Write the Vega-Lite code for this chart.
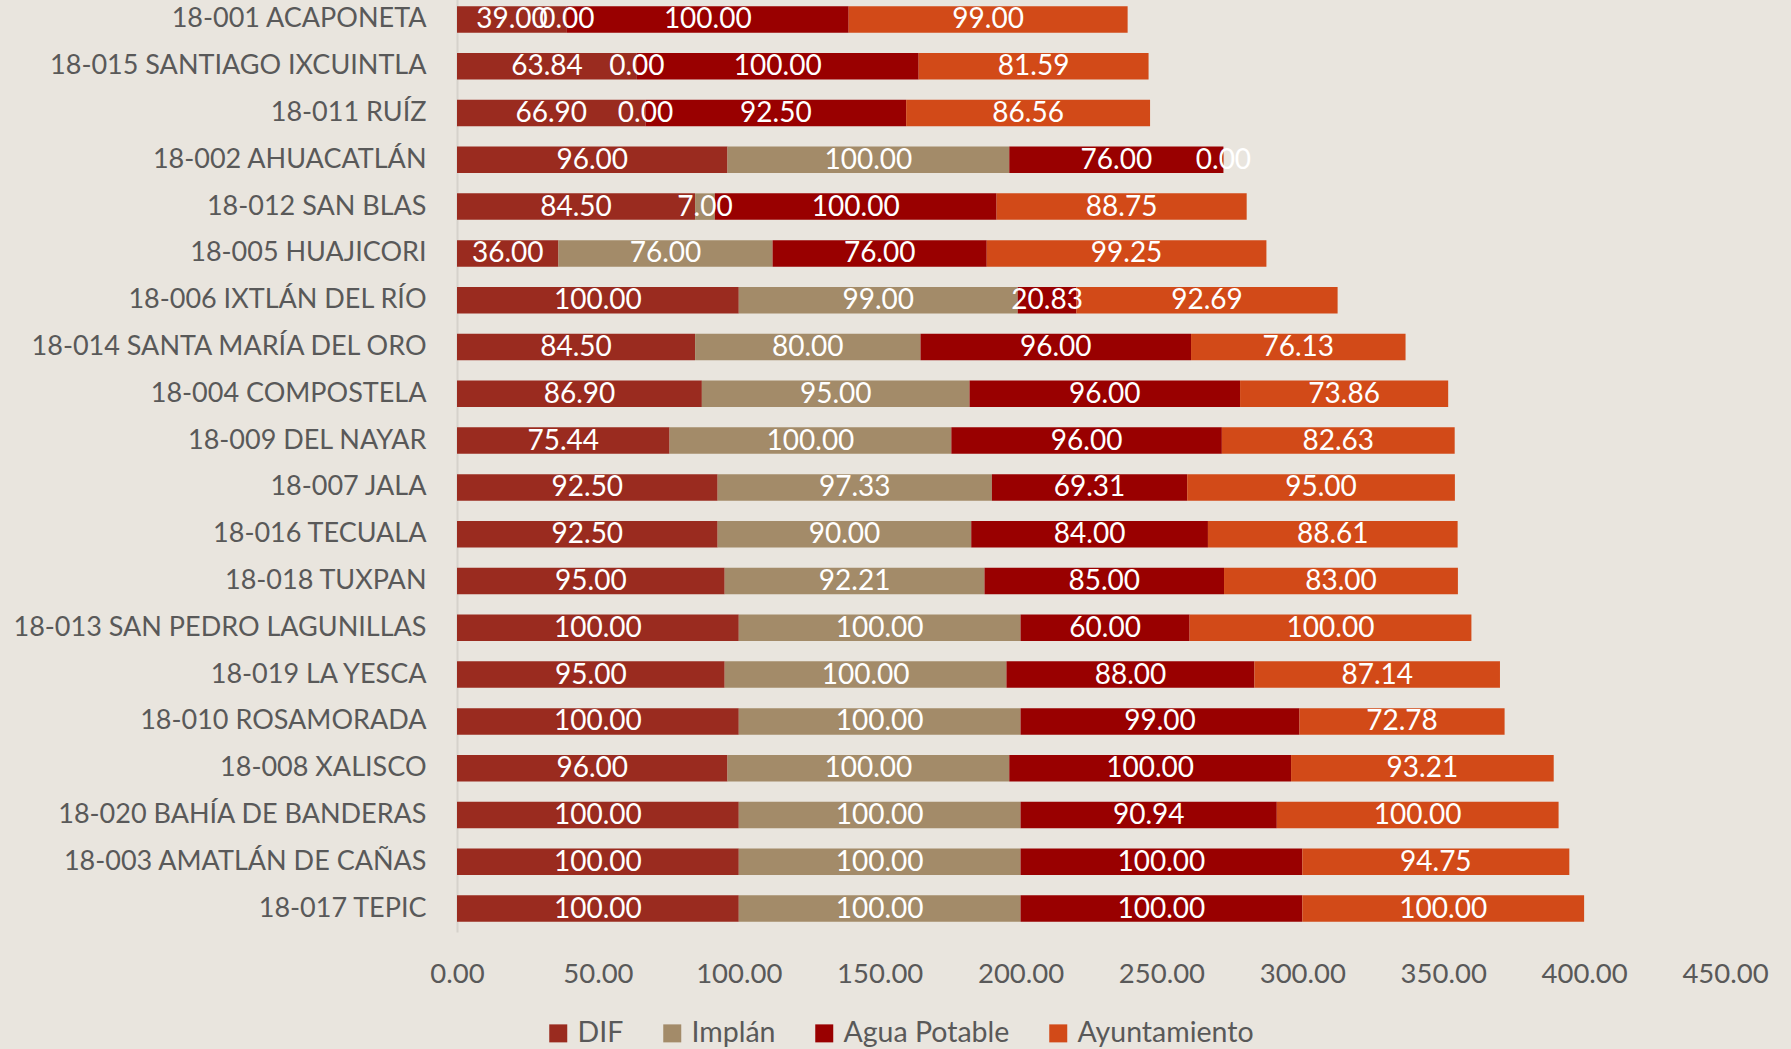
{
  "$schema": "https://vega.github.io/schema/vega-lite/v6.json",
  "width": 1268,
  "height": 936,
  "autosize": "none",
  "padding": {"left": 457, "top": -4, "right": 66, "bottom": 117},
  "background": "#E9E5DE",
  "config": {
    "view": {"stroke": null},
    "font": "Lato",
    "text": {"font": "Lato"}
  },
  "data": {
    "values": [
      {"municipio": "18-001 ACAPONETA", "serie": "DIF", "k": 1, "valor": 39.00},
      {"municipio": "18-001 ACAPONETA", "serie": "Implán", "k": 2, "valor": 0.00},
      {"municipio": "18-001 ACAPONETA", "serie": "Agua Potable", "k": 3, "valor": 100.00},
      {"municipio": "18-001 ACAPONETA", "serie": "Ayuntamiento", "k": 4, "valor": 99.00},
      {"municipio": "18-015 SANTIAGO IXCUINTLA", "serie": "DIF", "k": 1, "valor": 63.84},
      {"municipio": "18-015 SANTIAGO IXCUINTLA", "serie": "Implán", "k": 2, "valor": 0.00},
      {"municipio": "18-015 SANTIAGO IXCUINTLA", "serie": "Agua Potable", "k": 3, "valor": 100.00},
      {"municipio": "18-015 SANTIAGO IXCUINTLA", "serie": "Ayuntamiento", "k": 4, "valor": 81.59},
      {"municipio": "18-011 RUÍZ", "serie": "DIF", "k": 1, "valor": 66.90},
      {"municipio": "18-011 RUÍZ", "serie": "Implán", "k": 2, "valor": 0.00},
      {"municipio": "18-011 RUÍZ", "serie": "Agua Potable", "k": 3, "valor": 92.50},
      {"municipio": "18-011 RUÍZ", "serie": "Ayuntamiento", "k": 4, "valor": 86.56},
      {"municipio": "18-002 AHUACATLÁN", "serie": "DIF", "k": 1, "valor": 96.00},
      {"municipio": "18-002 AHUACATLÁN", "serie": "Implán", "k": 2, "valor": 100.00},
      {"municipio": "18-002 AHUACATLÁN", "serie": "Agua Potable", "k": 3, "valor": 76.00},
      {"municipio": "18-002 AHUACATLÁN", "serie": "Ayuntamiento", "k": 4, "valor": 0.00},
      {"municipio": "18-012 SAN BLAS", "serie": "DIF", "k": 1, "valor": 84.50},
      {"municipio": "18-012 SAN BLAS", "serie": "Implán", "k": 2, "valor": 7.00},
      {"municipio": "18-012 SAN BLAS", "serie": "Agua Potable", "k": 3, "valor": 100.00},
      {"municipio": "18-012 SAN BLAS", "serie": "Ayuntamiento", "k": 4, "valor": 88.75},
      {"municipio": "18-005 HUAJICORI", "serie": "DIF", "k": 1, "valor": 36.00},
      {"municipio": "18-005 HUAJICORI", "serie": "Implán", "k": 2, "valor": 76.00},
      {"municipio": "18-005 HUAJICORI", "serie": "Agua Potable", "k": 3, "valor": 76.00},
      {"municipio": "18-005 HUAJICORI", "serie": "Ayuntamiento", "k": 4, "valor": 99.25},
      {"municipio": "18-006 IXTLÁN DEL RÍO", "serie": "DIF", "k": 1, "valor": 100.00},
      {"municipio": "18-006 IXTLÁN DEL RÍO", "serie": "Implán", "k": 2, "valor": 99.00},
      {"municipio": "18-006 IXTLÁN DEL RÍO", "serie": "Agua Potable", "k": 3, "valor": 20.83},
      {"municipio": "18-006 IXTLÁN DEL RÍO", "serie": "Ayuntamiento", "k": 4, "valor": 92.69},
      {"municipio": "18-014 SANTA MARÍA DEL ORO", "serie": "DIF", "k": 1, "valor": 84.50},
      {"municipio": "18-014 SANTA MARÍA DEL ORO", "serie": "Implán", "k": 2, "valor": 80.00},
      {"municipio": "18-014 SANTA MARÍA DEL ORO", "serie": "Agua Potable", "k": 3, "valor": 96.00},
      {"municipio": "18-014 SANTA MARÍA DEL ORO", "serie": "Ayuntamiento", "k": 4, "valor": 76.13},
      {"municipio": "18-004 COMPOSTELA", "serie": "DIF", "k": 1, "valor": 86.90},
      {"municipio": "18-004 COMPOSTELA", "serie": "Implán", "k": 2, "valor": 95.00},
      {"municipio": "18-004 COMPOSTELA", "serie": "Agua Potable", "k": 3, "valor": 96.00},
      {"municipio": "18-004 COMPOSTELA", "serie": "Ayuntamiento", "k": 4, "valor": 73.86},
      {"municipio": "18-009 DEL NAYAR", "serie": "DIF", "k": 1, "valor": 75.44},
      {"municipio": "18-009 DEL NAYAR", "serie": "Implán", "k": 2, "valor": 100.00},
      {"municipio": "18-009 DEL NAYAR", "serie": "Agua Potable", "k": 3, "valor": 96.00},
      {"municipio": "18-009 DEL NAYAR", "serie": "Ayuntamiento", "k": 4, "valor": 82.63},
      {"municipio": "18-007 JALA", "serie": "DIF", "k": 1, "valor": 92.50},
      {"municipio": "18-007 JALA", "serie": "Implán", "k": 2, "valor": 97.33},
      {"municipio": "18-007 JALA", "serie": "Agua Potable", "k": 3, "valor": 69.31},
      {"municipio": "18-007 JALA", "serie": "Ayuntamiento", "k": 4, "valor": 95.00},
      {"municipio": "18-016 TECUALA", "serie": "DIF", "k": 1, "valor": 92.50},
      {"municipio": "18-016 TECUALA", "serie": "Implán", "k": 2, "valor": 90.00},
      {"municipio": "18-016 TECUALA", "serie": "Agua Potable", "k": 3, "valor": 84.00},
      {"municipio": "18-016 TECUALA", "serie": "Ayuntamiento", "k": 4, "valor": 88.61},
      {"municipio": "18-018 TUXPAN", "serie": "DIF", "k": 1, "valor": 95.00},
      {"municipio": "18-018 TUXPAN", "serie": "Implán", "k": 2, "valor": 92.21},
      {"municipio": "18-018 TUXPAN", "serie": "Agua Potable", "k": 3, "valor": 85.00},
      {"municipio": "18-018 TUXPAN", "serie": "Ayuntamiento", "k": 4, "valor": 83.00},
      {"municipio": "18-013 SAN PEDRO LAGUNILLAS", "serie": "DIF", "k": 1, "valor": 100.00},
      {"municipio": "18-013 SAN PEDRO LAGUNILLAS", "serie": "Implán", "k": 2, "valor": 100.00},
      {"municipio": "18-013 SAN PEDRO LAGUNILLAS", "serie": "Agua Potable", "k": 3, "valor": 60.00},
      {"municipio": "18-013 SAN PEDRO LAGUNILLAS", "serie": "Ayuntamiento", "k": 4, "valor": 100.00},
      {"municipio": "18-019 LA YESCA", "serie": "DIF", "k": 1, "valor": 95.00},
      {"municipio": "18-019 LA YESCA", "serie": "Implán", "k": 2, "valor": 100.00},
      {"municipio": "18-019 LA YESCA", "serie": "Agua Potable", "k": 3, "valor": 88.00},
      {"municipio": "18-019 LA YESCA", "serie": "Ayuntamiento", "k": 4, "valor": 87.14},
      {"municipio": "18-010 ROSAMORADA", "serie": "DIF", "k": 1, "valor": 100.00},
      {"municipio": "18-010 ROSAMORADA", "serie": "Implán", "k": 2, "valor": 100.00},
      {"municipio": "18-010 ROSAMORADA", "serie": "Agua Potable", "k": 3, "valor": 99.00},
      {"municipio": "18-010 ROSAMORADA", "serie": "Ayuntamiento", "k": 4, "valor": 72.78},
      {"municipio": "18-008 XALISCO", "serie": "DIF", "k": 1, "valor": 96.00},
      {"municipio": "18-008 XALISCO", "serie": "Implán", "k": 2, "valor": 100.00},
      {"municipio": "18-008 XALISCO", "serie": "Agua Potable", "k": 3, "valor": 100.00},
      {"municipio": "18-008 XALISCO", "serie": "Ayuntamiento", "k": 4, "valor": 93.21},
      {"municipio": "18-020 BAHÍA DE BANDERAS", "serie": "DIF", "k": 1, "valor": 100.00},
      {"municipio": "18-020 BAHÍA DE BANDERAS", "serie": "Implán", "k": 2, "valor": 100.00},
      {"municipio": "18-020 BAHÍA DE BANDERAS", "serie": "Agua Potable", "k": 3, "valor": 90.94},
      {"municipio": "18-020 BAHÍA DE BANDERAS", "serie": "Ayuntamiento", "k": 4, "valor": 100.00},
      {"municipio": "18-003 AMATLÁN DE CAÑAS", "serie": "DIF", "k": 1, "valor": 100.00},
      {"municipio": "18-003 AMATLÁN DE CAÑAS", "serie": "Implán", "k": 2, "valor": 100.00},
      {"municipio": "18-003 AMATLÁN DE CAÑAS", "serie": "Agua Potable", "k": 3, "valor": 100.00},
      {"municipio": "18-003 AMATLÁN DE CAÑAS", "serie": "Ayuntamiento", "k": 4, "valor": 94.75},
      {"municipio": "18-017 TEPIC", "serie": "DIF", "k": 1, "valor": 100.00},
      {"municipio": "18-017 TEPIC", "serie": "Implán", "k": 2, "valor": 100.00},
      {"municipio": "18-017 TEPIC", "serie": "Agua Potable", "k": 3, "valor": 100.00},
      {"municipio": "18-017 TEPIC", "serie": "Ayuntamiento", "k": 4, "valor": 100.00}
    ]
  },
  "transform": [
    {"stack": "valor", "groupby": ["municipio"], "sort": [{"field": "k", "order": "ascending"}], "as": ["x0", "x1"]}
  ],
  "encoding": {
    "y": {
      "field": "municipio",
      "type": "nominal",
      "sort": ["18-001 ACAPONETA", "18-015 SANTIAGO IXCUINTLA", "18-011 RUÍZ", "18-002 AHUACATLÁN", "18-012 SAN BLAS", "18-005 HUAJICORI", "18-006 IXTLÁN DEL RÍO", "18-014 SANTA MARÍA DEL ORO", "18-004 COMPOSTELA", "18-009 DEL NAYAR", "18-007 JALA", "18-016 TECUALA", "18-018 TUXPAN", "18-013 SAN PEDRO LAGUNILLAS", "18-019 LA YESCA", "18-010 ROSAMORADA", "18-008 XALISCO", "18-020 BAHÍA DE BANDERAS", "18-003 AMATLÁN DE CAÑAS", "18-017 TEPIC"],
      "scale": {"paddingInner": 0.434, "paddingOuter": 0.217},
      "axis": {
        "title": null,
        "ticks": false,
        "domain": true,
        "domainColor": "#D6D2CB",
        "domainWidth": 2,
        "labelFont": "Lato",
        "labelFontSize": 27,
        "labelColor": "#595959",
        "labelPadding": 31,
        "labelLimit": 0,
        "labelBaseline": "middle"
      }
    }
  },
  "layer": [
    {
      "mark": {"type": "bar"},
      "encoding": {
        "x": {
          "field": "x0",
          "type": "quantitative",
          "scale": {"domain": [0, 450], "nice": false},
          "axis": {
            "title": null,
            "values": [0, 50, 100, 150, 200, 250, 300, 350, 400, 450],
            "format": ".2f",
            "domain": false,
            "ticks": false,
            "grid": false,
            "labelFont": "Lato",
            "labelFontSize": 27.5,
            "labelColor": "#595959",
            "labelPadding": 28,
            "labelFlush": false,
            "labelOverlap": false
          }
        },
        "x2": {"field": "x1"},
        "color": {
          "field": "serie",
          "type": "nominal",
          "scale": {
            "domain": ["DIF", "Implán", "Agua Potable", "Ayuntamiento"],
            "range": ["#9A2B1F", "#A38B69", "#990000", "#D24A18"]
          },
          "legend": {
            "title": null,
            "orient": "none",
            "direction": "horizontal",
            "legendX": 87,
            "legendY": 1023,
            "symbolType": "square",
            "symbolSize": 324,
            "symbolStrokeWidth": 0,
            "labelFont": "Lato",
            "labelFontSize": 28.5,
            "labelColor": "#595959",
            "labelOffset": 5,
            "labelLimit": 0,
            "columnPadding": 34,
            "padding": 0
          }
        }
      }
    },
    {
      "transform": [
        {"fold": ["x0", "x1"], "as": ["extremo", "pos"]},
        {"aggregate": [{"op": "mean", "field": "pos", "as": "centro"}], "groupby": ["municipio", "serie", "valor"]}
      ],
      "mark": {"type": "text", "color": "#FFFFFF", "fontSize": 28, "font": "Lato", "baseline": "middle", "align": "center", "dy": 1},
      "encoding": {
        "x": {"field": "centro", "type": "quantitative"},
        "text": {"field": "valor", "type": "quantitative", "format": ".2f"}
      }
    }
  ]
}
